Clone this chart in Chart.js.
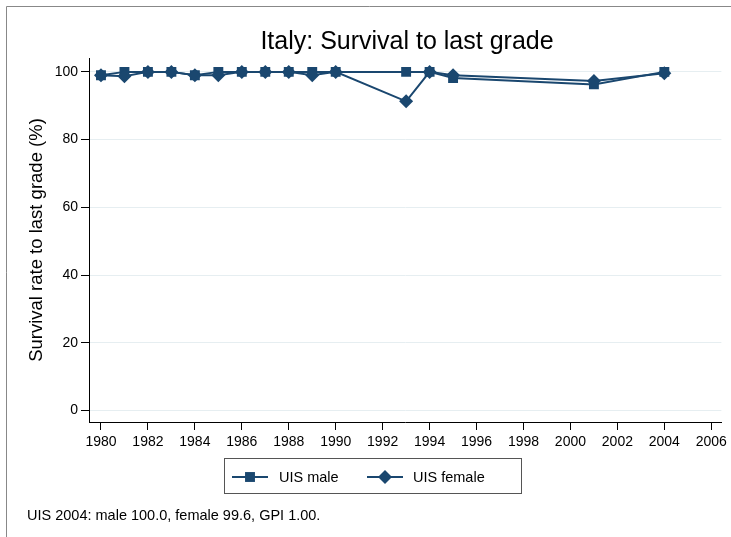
<!DOCTYPE html>
<html>
<head>
<meta charset="utf-8">
<script src="https://cdn.jsdelivr.net/npm/chart.js@4.4.1/dist/chart.umd.min.js"></script>
<style>
  html, body { margin: 0; padding: 0; background: #fff; }
  #wrap { width: 731px; height: 537px; position: relative; }
</style>
</head>
<body>
<div id="wrap"><canvas id="chart" width="731" height="537"></canvas></div>
<script>
// ===== DATA =====
const years = [1980, 1981, 1982, 1983, 1984, 1985, 1986, 1987, 1988, 1989, 1990, 1993, 1994, 1995, 2001, 2004];
const maleRate = [99, 100, 100, 100, 99, 100, 100, 100, 100, 100, 100, 100, 100, 98.2, 96.3, 100];
const femaleRate = [99, 98.7, 100, 100, 99, 99, 100, 100, 100, 99, 100, 91.3, 100, 99.0, 97.3, 99.6];
const xTicks = [1980, 1982, 1984, 1986, 1988, 1990, 1992, 1994, 1996, 1998, 2000, 2002, 2004, 2006];
const yTicks = [0, 20, 40, 60, 80, 100];
const seriesNames = ['UIS male', 'UIS female'];
const chartTitle = 'Italy: Survival to last grade';
const yTitle = 'Survival rate to last grade (%)';
const note = 'UIS 2004: male 100.0, female 99.6, GPI 1.00.';

const NAVY = '#1a476f';
const FONT = "'Liberation Sans', Arial, Helvetica, sans-serif";

const toPoints = (vals) => years.map((y, i) => ({ x: y, y: vals[i] }));

// ===== DECOR (title, legend, note, frame) =====
const decor = {
  id: 'decor',
  afterDraw(chart) {
    const ctx = chart.ctx;
    ctx.save();
    // outer frame
    ctx.strokeStyle = '#888';
    ctx.lineWidth = 1;
    ctx.beginPath();
    ctx.moveTo(6.5, 540); ctx.lineTo(6.5, 6.5); ctx.lineTo(740, 6.5);
    ctx.stroke();

    // title
    ctx.fillStyle = '#000';
    ctx.font = '25px ' + FONT;
    ctx.textAlign = 'center';
    ctx.textBaseline = 'alphabetic';
    ctx.fillText(chartTitle, 407, 48.5);

    // legend box
    ctx.strokeStyle = '#555';
    ctx.strokeRect(224.5, 458.5, 297, 35);
    const items = [
      { x0: 232, x1: 268, tx: 279, style: 'rect' },
      { x0: 367, x1: 403, tx: 413, style: 'rectRot' }
    ];
    const ly = 477;
    items.forEach((it, i) => {
      ctx.strokeStyle = NAVY;
      ctx.lineWidth = 2;
      ctx.beginPath(); ctx.moveTo(it.x0, ly); ctx.lineTo(it.x1, ly); ctx.stroke();
      ctx.fillStyle = NAVY;
      Chart.helpers.drawPoint(ctx, { pointStyle: it.style, radius: 7, borderWidth: 0 }, (it.x0 + it.x1) / 2, ly);
      ctx.fillStyle = '#000';
      ctx.font = '14.5px ' + FONT;
      ctx.textAlign = 'left';
      ctx.textBaseline = 'middle';
      ctx.fillText(seriesNames[i], it.tx, ly + 0.5);
    });

    // note
    ctx.font = '14.5px ' + FONT;
    ctx.textAlign = 'left';
    ctx.textBaseline = 'alphabetic';
    ctx.fillText(note, 27, 520);
    ctx.restore();
  }
};

// ===== CHART =====
new Chart(document.getElementById('chart'), {
  type: 'line',
  data: {
    datasets: [
      {
        label: seriesNames[0],
        data: toPoints(maleRate),
        borderColor: NAVY,
        backgroundColor: NAVY,
        borderWidth: 2,
        pointStyle: 'rect',
        pointRadius: 7,
        pointBorderWidth: 0,
        tension: 0,
        order: 2
      },
      {
        label: seriesNames[1],
        data: toPoints(femaleRate),
        borderColor: NAVY,
        backgroundColor: NAVY,
        borderWidth: 2,
        pointStyle: 'rectRot',
        pointRadius: 7,
        pointBorderWidth: 0,
        tension: 0,
        order: 1
      }
    ]
  },
  options: {
    responsive: false,
    animation: false,
    layout: { padding: { left: 0, top: 58, right: 9, bottom: 75 } },
    plugins: {
      legend: { display: false },
      tooltip: { enabled: false }
    },
    scales: {
      x: {
        type: 'linear',
        min: 1979.49,
        max: 2006.43,
        afterBuildTicks: (s) => { s.ticks = xTicks.map(v => ({ value: v })); },
        afterFit: (s) => { s.height = 40; },
        grid: { drawOnChartArea: false, tickColor: '#000', tickLength: 8 },
        border: { color: '#000', width: 1 },
        ticks: {
          color: '#000',
          font: { family: FONT, size: 14 },
          padding: 4,
          maxRotation: 0,
          autoSkip: false,
          callback: (v) => String(v)
        }
      },
      y: {
        min: -3.4,
        max: 104.1,
        afterBuildTicks: (s) => { s.ticks = yTicks.map(v => ({ value: v })); },
        afterFit: (s) => { s.width = 89; },
        grid: { color: '#e6eef1', tickColor: '#000', tickLength: 8 },
        border: { color: '#000', width: 1 },
        ticks: {
          color: '#000',
          font: { family: FONT, size: 14 },
          padding: 3
        },
        title: {
          display: true,
          text: yTitle,
          color: '#000',
          font: { family: FONT, size: 18.5 },
          padding: { top: 26, bottom: 0 }
        }
      }
    }
  },
  plugins: [decor]
});
</script>
</body>
</html>
